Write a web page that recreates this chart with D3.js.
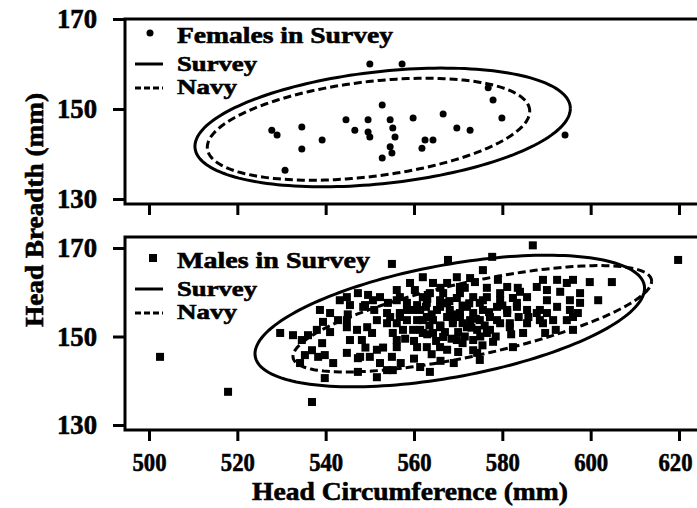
<!DOCTYPE html>
<html>
<head>
<meta charset="utf-8">
<script src="https://cdn.jsdelivr.net/npm/d3@7/dist/d3.min.js"></script>
<style>
  body { margin: 0; background: #fff; }
  text { font-family: "Liberation Serif", "Times New Roman", serif; font-weight: bold; fill: #000;
         stroke: #000; stroke-width: 0.6px; }
</style>
</head>
<body>
<svg id="chart" width="697" height="508"></svg>
<script>
// tick values
const xTicks = [500, 520, 540, 560, 580, 600, 620];
const yTicks = [130, 150, 170];

// females in survey: [head circumference, head breadth]
const femalePoints = [
  [550.0, 160.0], [557.3, 160.0], [527.8, 145.3], [529.0, 144.2], [534.6, 146.0],
  [534.6, 141.1], [539.2, 143.1], [530.8, 136.4], [544.6, 147.6], [546.6, 145.3],
  [549.6, 147.6], [549.6, 144.9], [552.8, 150.9], [554.6, 147.6], [555.7, 143.8],
  [554.6, 141.6], [552.8, 139.1], [559.8, 148.0], [562.5, 143.1], [561.8, 141.3],
  [564.3, 143.1], [566.6, 148.9], [569.7, 145.8], [572.7, 145.3], [576.8, 154.7],
  [577.9, 152.0], [579.9, 148.0], [594.2, 144.2], [550.0, 143.8], [555.2, 145.8],
  [555.0, 140.2]
];

// males in survey
const malePoints = [
  [502.5, 145.4], [517.9, 137.5], [536.9, 135.2], [555.0, 166.4], [586.9, 170.6],
  [619.8, 167.3], [567.7, 167.3], [577.7, 168.0],
  [543.2, 158.2], [544.8, 158.9], [547.3, 159.8], [549.6, 159.4], [548.9, 157.1],
  [552.3, 158.9], [554.1, 157.6], [556.1, 158.2], [545.5, 157.1], [538.7, 156.0],
  [541.0, 155.3], [542.8, 153.7], [539.4, 153.3], [538.0, 151.5], [536.0, 150.3],
  [532.6, 150.3], [534.6, 149.2], [536.9, 146.9], [539.2, 148.5], [539.8, 145.8],
  [538.3, 145.4], [535.3, 145.8], [534.2, 144.0], [541.0, 151.0], [544.8, 152.1],
  [547.1, 151.5], [548.2, 149.2], [545.5, 149.2], [544.8, 146.3], [547.3, 145.1],
  [550.0, 145.4], [551.6, 147.0], [552.3, 144.0], [555.0, 145.4], [551.6, 140.8],
  [553.9, 142.4], [556.1, 149.2], [556.1, 153.0], [553.9, 153.0], [554.6, 154.4],
  [550.5, 150.8], [541.7, 144.0], [539.8, 140.6], [529.7, 150.8], [547.8, 145.4],
  [547.3, 142.0], [561.4, 143.1], [563.6, 142.0], [555.2, 142.4], [556.1, 147.6],
  [560.7, 147.6], [562.9, 147.6], [565.9, 147.6], [573.4, 146.9], [574.9, 144.7],
  [582.4, 147.6], [577.9, 148.8], [584.7, 150.8], [589.7, 150.8], [594.6, 153.7],
  [596.0, 154.4], [597.1, 155.3], [595.3, 158.2], [593.1, 160.1], [590.1, 160.5],
  [587.8, 161.2], [584.0, 160.1], [582.4, 158.7], [575.6, 165.0], [579.0, 162.8],
  [581.1, 161.2], [576.5, 161.0], [573.8, 162.3], [571.5, 161.0], [569.7, 158.7],
  [567.5, 157.6], [565.2, 156.0], [562.9, 157.6], [560.2, 160.5], [559.8, 156.0],
  [562.0, 153.7], [565.9, 152.1], [568.8, 153.7], [572.0, 152.1], [574.9, 153.7],
  [577.2, 154.4], [578.8, 153.7], [581.1, 156.0], [583.3, 156.7], [585.6, 156.0],
  [588.5, 156.0], [590.1, 158.2], [592.4, 156.7], [581.7, 153.0], [585.6, 153.0],
  [588.5, 153.7], [591.5, 153.7], [573.4, 149.2], [574.3, 146.3], [576.5, 150.8],
  [569.7, 149.2], [566.6, 149.9], [564.3, 150.8], [562.0, 150.8], [559.8, 151.5],
  [557.5, 151.5], [555.2, 150.8], [556.8, 154.4], [553.9, 155.3], [551.6, 153.7],
  [549.4, 152.1], [544.8, 153.7], [548.5, 156.7], [550.7, 158.2], [556.8, 158.9],
  [559.1, 162.1], [562.0, 163.4], [564.3, 162.1], [567.5, 162.1], [569.7, 163.4],
  [572.7, 163.2], [589.2, 162.8], [592.4, 162.8], [594.6, 162.1], [596.0, 162.8],
  [597.6, 157.6], [558.4, 157.6], [579.5, 158.2], [574.9, 157.6], [572.0, 156.7],
  [570.4, 154.4], [567.5, 154.4], [564.3, 153.7], [562.9, 154.4], [560.7, 153.7],
  [558.4, 153.7], [558.4, 156.0], [561.4, 156.0], [565.9, 156.7], [568.1, 156.0],
  [573.4, 155.3], [575.6, 156.0], [578.8, 156.7], [576.5, 158.9], [573.4, 158.9],
  [570.4, 159.8], [566.6, 159.8], [563.6, 159.8], [562.0, 158.9], [583.7, 154.4],
  [585.9, 154.4], [590.1, 155.3], [595.3, 156.0], [597.6, 159.8], [592.1, 151.5],
  [596.0, 151.5], [599.8, 162.3], [604.8, 162.3], [601.7, 158.2], [570.4, 161.2],
  [579.5, 159.8], [583.5, 161.0], [556.1, 160.5], [556.8, 155.3], [560.7, 157.1],
  [562.7, 156.7], [565.9, 158.2], [570.4, 155.3], [575.6, 158.2], [581.1, 155.3],
  [583.3, 157.6], [585.6, 158.9], [587.8, 155.3], [589.2, 153.0], [577.2, 151.5],
  [574.3, 151.5], [561.4, 151.5], [568.8, 153.0], [572.7, 153.7], [579.5, 153.0],
  [581.7, 152.1],
  [563.0, 150.5], [565.0, 149.0], [567.0, 151.0], [568.5, 149.5], [570.0, 151.0],
  [571.5, 150.0], [573.0, 152.0], [575.0, 150.0], [576.0, 152.5], [566.0, 152.5],
  [569.0, 155.0], [571.0, 157.0], [574.0, 154.0], [577.0, 155.5], [564.0, 155.0],
  [566.5, 157.5], [568.0, 158.0], [571.0, 148.5], [567.5, 147.0], [564.0, 146.0],
  [570.0, 146.5], [575.5, 148.0], [572.5, 157.5], [563.0, 158.5], [566.0, 161.0],
  [578.5, 150.0], [580.0, 157.0], [582.0, 150.5], [560.0, 149.0], [558.0, 149.5],
  [553.0, 147.5], [549.0, 147.5], [545.0, 155.0], [551.0, 156.0], [560.0, 145.0],
  [566.0, 144.5], [569.0, 144.0], [557.0, 144.0], [563.5, 152.5], [571.0, 153.0]
];

// 95% ellipses: centre plus two conjugate semi-axes (data units)
const femaleSurvey = { cx: 552.9, cy: 145.9, ux: 42.5, uy: 4.2, vx: 0, vy: 12.5 };
const femaleNavy   = { cx: 549.7, cy: 145.5, ux: 36.5, uy: 4.0, vx: 0, vy: 10.6 };
const maleSurvey   = { cx: 568.1, cy: 153.5, ux: 44.1, uy: 7.4, vx: 0, vy: 12.9 };
const maleNavy     = { cx: 573.2, cy: 154.0, ux: 40.6, uy: 8.5, vx: 0, vy: 8.5 };

const svg = d3.select("#chart");

const x = d3.scaleLinear().domain([500, 620]).range([149, 679]);

const panels = [
  { y: d3.scaleLinear().domain([130, 170]).range([199, 19]), top: 19, bottom: 204,
    points: femalePoints, survey: femaleSurvey, navy: femaleNavy,
    label: "Females in Survey", labelW: 216, round: true, legendY: 33, showX: false },
  { y: d3.scaleLinear().domain([130, 170]).range([425, 248]), top: 237, bottom: 430,
    points: malePoints, survey: maleSurvey, navy: maleNavy,
    label: "Males in Survey", labelW: 193, round: false, legendY: 258, showX: true }
];

function ellipsePath(e, y) {
  const pts = d3.range(0, 361, 2).map(a => {
    const t = a * Math.PI / 180;
    return [x(e.cx + e.ux * Math.cos(t) + e.vx * Math.sin(t)),
            y(e.cy + e.uy * Math.cos(t) + e.vy * Math.sin(t))];
  });
  return d3.line()(pts);
}

panels.forEach(p => {
  const g = svg.append("g");

  // frame: left, top and bottom lines
  g.append("path")
    .attr("d", `M697,${p.top}H125V${p.bottom}H697`)
    .attr("fill", "none").attr("stroke", "#000").attr("stroke-width", 3);

  // y axis
  const ya = g.append("g").attr("transform", "translate(125,0)")
    .call(d3.axisLeft(p.y).tickValues(yTicks).tickSize(12).tickPadding(16));
  ya.select(".domain").remove();
  ya.selectAll("line").attr("stroke-width", 3);
  ya.selectAll("text").attr("font-size", 27).attr("font-family", null)
    .attr("textLength", 40).attr("lengthAdjust", "spacingAndGlyphs");

  // x axis
  const xa = g.append("g").attr("transform", `translate(0,${p.bottom})`)
    .call(d3.axisBottom(x).tickValues(xTicks).tickSize(11).tickPadding(12)
      .tickFormat(p.showX ? d3.format("d") : ""));
  xa.select(".domain").remove();
  xa.selectAll("line").attr("stroke-width", 3);
  xa.selectAll("text").attr("font-size", 26).attr("font-family", null)
    .attr("textLength", 34).attr("lengthAdjust", "spacingAndGlyphs");
  // last label sits against the right edge
  xa.selectAll("text").filter(d => d === 620).attr("dx", -4);

  // ellipses
  g.append("path").attr("d", ellipsePath(p.survey, p.y))
    .attr("fill", "none").attr("stroke", "#000").attr("stroke-width", 3);
  g.append("path").attr("d", ellipsePath(p.navy, p.y))
    .attr("fill", "none").attr("stroke", "#000").attr("stroke-width", 3)
    .attr("stroke-dasharray", "8,4");

  // points
  if (p.round) {
    g.selectAll("circle.pt").data(p.points).join("circle")
      .attr("cx", d => x(d[0])).attr("cy", d => p.y(d[1])).attr("r", 3.5);
  } else {
    g.selectAll("rect.pt").data(p.points).join("rect")
      .attr("x", d => x(d[0]) - 4).attr("y", d => p.y(d[1]) - 4)
      .attr("width", 8).attr("height", 8);
  }

  // legend
  const ly = p.legendY;
  if (p.round) {
    g.append("circle").attr("cx", 150).attr("cy", ly).attr("r", 3.5);
  } else {
    g.append("rect").attr("x", 149).attr("y", ly - 4).attr("width", 8).attr("height", 8);
  }
  g.append("text").attr("x", 177).attr("y", ly + 10).attr("font-size", 24)
    .attr("textLength", p.labelW).attr("lengthAdjust", "spacingAndGlyphs")
    .text(p.label);
  g.append("line").attr("x1", 135).attr("x2", 163).attr("y1", ly + 31).attr("y2", ly + 31)
    .attr("stroke", "#000").attr("stroke-width", 3);
  g.append("text").attr("x", 177).attr("y", ly + 38).attr("font-size", 21)
    .attr("textLength", 80).attr("lengthAdjust", "spacingAndGlyphs").text("Survey");
  g.append("line").attr("x1", 135).attr("x2", 163).attr("y1", ly + 55).attr("y2", ly + 55)
    .attr("stroke", "#000").attr("stroke-width", 3).attr("stroke-dasharray", "6,3");
  g.append("text").attr("x", 177).attr("y", ly + 61).attr("font-size", 21)
    .attr("textLength", 60).attr("lengthAdjust", "spacingAndGlyphs").text("Navy");
});

// axis titles
svg.append("text").attr("x", 410).attr("y", 500).attr("text-anchor", "middle")
  .attr("font-size", 26).attr("textLength", 316).attr("lengthAdjust", "spacingAndGlyphs")
  .text("Head Circumference (mm)");
svg.append("text").attr("transform", "translate(43,210) rotate(-90)")
  .attr("text-anchor", "middle").attr("font-size", 26)
  .attr("textLength", 234).attr("lengthAdjust", "spacingAndGlyphs")
  .text("Head Breadth (mm)");
</script>
</body>
</html>
